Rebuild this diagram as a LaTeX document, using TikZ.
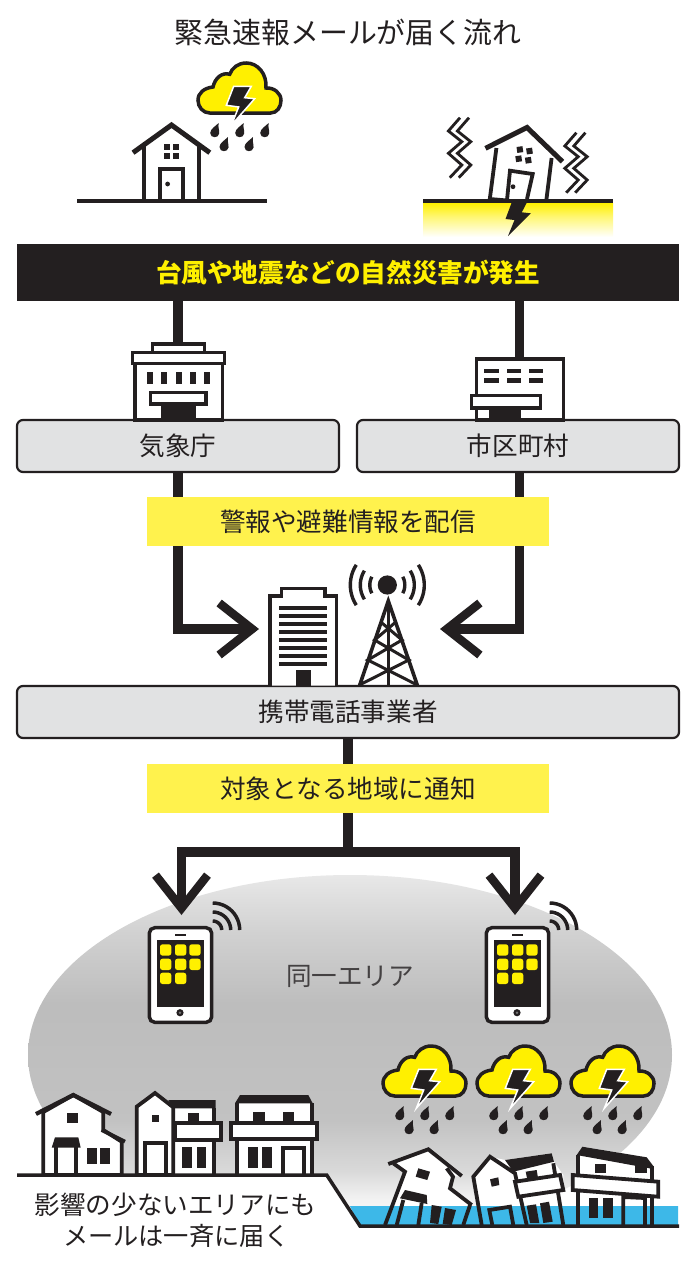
\documentclass[tikz,border=0pt]{standalone}
\usepackage{fontspec}
\setmainfont{Noto Sans CJK JP}
\usetikzlibrary{arrows.meta,calc}
\definecolor{ink}{HTML}{231F20}
\definecolor{volt}{HTML}{FFF000}
\definecolor{band}{HTML}{FFF24D}
\definecolor{panel}{HTML}{E1E2E3}
\definecolor{flood}{HTML}{3DB8E8}
\pgfdeclareverticalshading{blobshade}{100bp}{
 color(0bp)=(white); color(25bp)=(white);
 color(30bp)=(black!5);
 color(34bp)=(black!15);
 color(41bp)=(black!24);
 color(57bp)=(black!26);
 color(67bp)=(black!18);
 color(75bp)=(black!9);
 color(100bp)=(black!9)}
\pgfdeclareverticalshading{soilshade}{100bp}{
 color(0bp)=(white); color(25bp)=(white);
 color(55bp)=(volt!55); color(75bp)=(volt); color(100bp)=(volt)}
\newcommand{\arcby}[6][]{\draw[#1] plot[smooth,domain=#5:#6,samples=13] ({#2+#4*cos(\x)},{#3+#4*sin(\x)});}
\tikzset{
 every node/.style={text=ink,inner sep=0pt},
 boxnode/.style={draw=ink,line width=2.2pt,fill=panel,rounded corners=6pt,minimum width=322pt,minimum height=52pt,font=\fontsize{25.6}{30}\selectfont},
 bandnode/.style={fill=band,minimum width=402pt,minimum height=49pt,font=\fontsize{25.6}{30}\selectfont},
 conn/.style={draw=ink,line width=9.5pt},
 connarrow/.style={conn,line join=miter,-{Straight Barb[length=33pt,width=52pt,line width=8.5pt]}},
 hline/.style={draw=ink,line width=3.8pt,line join=miter},
 wall/.style={draw=ink,fill=white,line width=3.8pt,line join=miter},
 bwall/.style={draw=ink,fill=white,line width=3.2pt,line join=miter},
 fl/.style={},
 pics/storm/.style={code={
  \draw[draw=ink,fill=volt,line width=3.5pt] (11.7,50) -- (72.7,50) .. controls (79,50) and (83,44) .. (83,37.3) .. controls (83,30) and (76,24.5) .. (68,25) .. controls (69,11) and (60,0) .. (48.3,0) .. controls (40,0) and (34,5) .. (31.7,11.3) .. controls (24,9) and (17,15) .. (15,24) .. controls (6,25) and (0,30) .. (0,37.3) .. controls (0,44) and (5,50) .. (11.7,50) -- cycle;
  \draw[draw=white,fill=ink,line width=1.5pt] (35.7,23.3) -- (53.3,23.3) -- (46.7,34.7) -- (56.7,35.7) -- (33.3,62.3) -- (40.7,44) -- (28.3,42.3) -- cycle;
  \foreach \dx/\dy in {16.7/60,41.7/60,66.7/60,26/74,51/74}{
   \fill[ink] (\dx+4,\dy) .. controls (\dx+3,\dy+4) and (\dx+5,\dy+8) .. (\dx+4.5,\dy+10.5) .. controls (\dx+4,\dy+15.5) and (\dx-4.5,\dy+15.5) .. (\dx-4.5,\dy+10) .. controls (\dx-4.5,\dy+6) and (\dx+1,\dy+3) .. (\dx+4,\dy) -- cycle;}
 }},
 pics/wifi/.style={code={
  \arcby[draw=ink,line width=3.5pt]{0}{0}{9}{-90}{0}
  \arcby[draw=ink,line width=3.5pt]{0}{0}{18}{-90}{0}
  \arcby[draw=ink,line width=3.5pt]{0}{0}{27}{-90}{0}
 }},
 pics/phone/.style={code={
  \draw[draw=ink,fill=white,line width=3.5pt,rounded corners=5.5pt] (0,0) rectangle (62.4,94.6);
  \fill[ink] (25.7,6.3) rectangle (36.7,8.3);
  \fill[ink] (7.4,12.3) rectangle (54.7,79);
  \foreach \px/\py in {10.7/16.6,25.7/16.6,40/16.6,10.7/31,25.7/31,40/31,10.7/45,25.7/45}{
   \fill[volt,rounded corners=2.5pt] (\px,\py) rectangle ++(11.3,11.3);}
  \fill[ink] (30.7,85) circle (3.6);
  \fill[black!55] (30.7,85) circle (1.3);
 }},
}
\newcommand{\houseD}{
 \path[fl] (388.3,1164) -- (428.3,1149.3) -- (461.7,1176) -- (453,1176.7) -- (450,1188.3) -- (471.7,1205) -- (470,1205) -- (463.3,1225) -- (385,1225) -- (405,1171.7) -- (393.3,1163.3) -- cycle;
}
\newcommand{\houseE}{
 \path[fl] (473.3,1176.7) -- (490,1156.7) -- (505,1160) -- (551.7,1153.3) -- (554,1161.7) -- (563.3,1175) -- (563.3,1225) -- (481.7,1225) -- cycle;
}
\newcommand{\houseF}{
 \path[fl] (576.7,1155) -- (582.3,1146.7) -- (646.7,1157.3) -- (653.3,1166) -- (651.7,1225) -- (577.7,1225) -- cycle;
}
\begin{document}
\begin{tikzpicture}[x=1pt,y=-1pt]
\useasboundingbox (0,0) rectangle (696,1263);
\fill[white] (0,0) rectangle (696,1263);
% title
\node (title) at (348,32) {\fontsize{28.9}{32}\selectfont 緊急速報メールが届く流れ};
% soil
\shade[shading=soilshade] (423,203) rectangle (613,237);
% left scene
\draw[draw=ink,line width=4pt] (77,201) -- (267,201);
\draw[draw=ink,line width=4pt] (423,201) -- (613,201);
\draw[hline] (143.6,145) -- (143.6,201) (199,145) -- (199,201);
\draw[draw=ink,line width=5pt,line join=miter] (133,152.7) -- (171.5,125) -- (209.8,152.7);
\draw[hline] (160,201) -- (160,169) -- (183,169) -- (183,201);
\fill[ink] (167.6,184) circle (2.4);
\foreach \wx/\wy in {163.6/143.8,173/143.8,163.6/153,173/153}{\fill[ink] (\wx,\wy) rectangle ++(6.2,6.2);}
\pic at (198,63) {storm};
% right tilted house
\draw[hline] (496.4,148) -- (489.8,199) -- (507,200.5);
\draw[hline] (551.6,158) -- (546.5,199);
\draw[draw=ink,line width=5pt,line join=miter] (485.5,148.3) -- (527,127.5) -- (562.5,161.7);
\draw[hline] (507,200) -- (510,170.7) -- (532.7,174) -- (527,199);
\fill[ink] (513,186.7) circle (2.4);
\foreach \wx/\wy in {0/0,9.6/1.5,-1.2/9.2,8.4/10.7}{\fill[ink,shift={(516.5+\wx,147+\wy)},rotate=8] (0,0) rectangle (6,6);}
\fill[ink] (512,201.7) -- (527.3,201.7) -- (521.8,212.3) -- (530.9,213.3) -- (508,236) -- (514.5,220) -- (505.5,219) -- cycle;
% zigzags
\foreach \ox/\oy in {0/0,9/0,116.4/15,125.4/15}{
 \draw[draw=ink,line width=2.8pt,shift={(\ox,\oy)}] (460,117.7) -- (448.4,131) -- (461.8,141.7) -- (448.4,153.3) -- (461.8,165) -- (449.8,177.7);}
% headline bar
\node[fill=ink,minimum width=662pt,minimum height=57pt,text=volt,font=\fontsize{25.6}{30}\selectfont\bfseries] (headline) at (348,272.5) {台風や地震などの自然災害が発生};
% boxes
\node[boxnode] (kisho) at (178,446) {気象庁};
\node[boxnode] (city) at (518,446) {市区町村};
\node[boxnode,minimum width=662pt] (carrier) at (348,712) {携帯電話事業者};
% connectors
\draw[conn] (headline.south -| kisho) -- (kisho.north);
\draw[conn] ($(headline.south -| city)+(1.5,0)$) -- ($(city.north)+(1.5,0)$);
\coordinate (tipA) at (259,629);
\coordinate (tipB) at (440,629);
\coordinate (fork) at (348,852);
\coordinate (tipC) at (181.5,915);
\coordinate (tipD) at (515,915);
\draw[connarrow] (kisho.south) |- (tipA);
\draw[connarrow] ($(city.south)+(1.5,0)$) |- (tipB);
% blob
\shade[shading=blobshade] (350,1055) ellipse [x radius=322, y radius=180];
\draw[conn] (carrier.south) -- (fork);
\draw[connarrow] (fork) -| (tipC);
\draw[connarrow] (fork) -| (tipD);
% bands
\node[bandnode] (notice) at (348,521.5) {警報や避難情報を配信};
\node[bandnode] (target) at (348,788.5) {対象となる地域に通知};
% agency building
\draw[bwall] (152.3,344) rectangle (204.3,352.7);
\draw[bwall] (135,363.3) rectangle (222.3,420);
\draw[bwall] (132.3,352.7) rectangle (224.3,363.3);
\foreach \wx in {146.7,161,175.7,190,204.3}{\fill[ink] (\wx,372.3) rectangle ++(5.8,12);}
\fill[ink] (160.7,404) rectangle (196,420);
\draw[bwall] (150.7,392.7) rectangle (206,404);
% municipal building
\draw[bwall] (476.7,359) rectangle (563.3,420);
\foreach \wx in {484.3,506.7,528.7}{\foreach \wy in {368.7,378.3}{\fill[ink] (\wx,\wy) rectangle ++(14.6,4.2);}}
\fill[ink] (489,408) rectangle (521,420);
\draw[bwall] (471.7,395.3) rectangle (540.7,408);
% office
\draw[bwall] (270,685.7) -- (270,596) -- (281.7,596) -- (281.7,588.3) -- (325,588.3) -- (325,596) -- (336.7,596) -- (336.7,685.7);
\foreach \ly in {606,614,622,630,638,646,654,662}{\fill[ink] (279.3,\ly) rectangle ++(48,3.8);}
\fill[ink] (296,670) rectangle (311,685.7);
% tower
\fill[ink] (387.3,585) circle (9.6);
\foreach \rr/\ra in {17.5/28,27/32,37/33}{
 \arcby[draw=ink,line width=3.4pt]{387.3}{585}{\rr}{-\ra}{\ra}
 \arcby[draw=ink,line width=3.4pt]{387.3}{585}{\rr}{180-\ra}{180+\ra}}
\draw[draw=ink,line width=3.6pt,line join=miter] (359.5,685.7) -- (388.3,601) -- (417.5,685.7);
\draw[draw=ink,line width=3pt] (388.3,601) -- (388.3,685.7);
\draw[draw=ink,line width=3pt] (380.8,622) -- (402,640) -- (367.8,660) -- (417.3,685) (395.8,622) -- (374.6,640) -- (408.8,660) -- (359.3,685);
% phones
\pic at (149.3,927.7) {phone};
\pic at (486.3,927.7) {phone};
\pic at (212.7,930) {wifi};
\pic at (549.7,930) {wifi};
\node (area) at (350,976) {\fontsize{25.6}{30}\selectfont\color{ink!85}同一エリア};
% clouds
\pic at (383,1046) {storm};
\pic at (477,1046) {storm};
\pic at (571,1046) {storm};
% safe zone mask and labels
\fill[white] (0,1175) -- (326.7,1175) -- (360,1226) -- (696,1226) -- (696,1263) -- (0,1263) -- cycle;
% house A
\draw[wall] (43.3,1175) -- (43.3,1112) -- (73.3,1095) -- (103.3,1112) -- (103.3,1130) -- (121.7,1141.7) -- (121.7,1175) -- cycle;
\draw[draw=ink,line width=4.2pt,line join=miter] (36,1114) -- (73.3,1095) -- (111,1114);
\draw[hline] (101.7,1130) -- (125,1141.7);
\fill[ink] (66.7,1113.3) rectangle (78.3,1123.3);
\fill[ink] (51.7,1147.7) -- (55,1137.3) -- (78.3,1137.3) -- (80.7,1147.7) -- cycle;
\draw[hline] (56,1147) -- (56,1175) (76,1147) -- (76,1175);
\fill[ink] (86.7,1147.7) rectangle (96.7,1164);
\fill[ink] (100,1147.7) rectangle (110,1164);
% house B
\fill[white] (136.7,1175) -- (136.7,1106.7) -- (155,1093) -- (173.3,1107.3) -- (214,1107.3) -- (214,1175) -- cycle;
\fill[ink] (168.3,1100) -- (215.7,1100) -- (215.7,1108.3) -- (173.3,1108.3) -- cycle;
\draw[wall] (136.7,1175) -- (136.7,1106.7) -- (155,1093) -- (173.3,1107.3) -- (173.3,1175) -- cycle;
\draw[hline] (214,1108) -- (214,1175);
\fill[ink] (151.7,1115) rectangle (159,1121.7);
\fill[ink] (188.3,1113.3) rectangle (199,1123.3);
\draw[wall] (175,1123.3) rectangle (220.7,1140);
\draw[hline] (145,1175) -- (145,1143.3) -- (166,1143.3) -- (166,1175);
\fill[ink] (182.3,1146.7) rectangle (191.7,1167.7);
\fill[ink] (196.7,1146.7) rectangle (206,1167.7);
% house C
\fill[white] (236.7,1103) rectangle (311.7,1175);
\fill[ink] (235,1103.3) -- (240,1095) -- (308.3,1095) -- (312.7,1103.3) -- cycle;
\draw[hline] (236.7,1103) -- (236.7,1175) (311.7,1103) -- (311.7,1175);
\fill[ink] (253.3,1112.3) rectangle (265,1123.3);
\fill[ink] (282.7,1112.3) rectangle (294.3,1123.3);
\draw[wall] (231,1123.3) rectangle (316.7,1139.3);
\fill[ink] (248.3,1146.7) rectangle (258.3,1167.7);
\fill[ink] (261.7,1146.7) rectangle (271.7,1167.7);
\draw[hline] (283.3,1175) -- (283.3,1148.3) -- (304,1148.3) -- (304,1175);
% flooded houses: white bodies, water, then lines
\tikzset{fl/.style={fill=white}}
\houseD \houseE \houseF
\fill[flood] (350,1206) -- (678,1206) -- (678,1226) -- (360,1226) -- cycle;
% house D lines
\draw[hline] (388.3,1164) -- (428.3,1149.3) -- (461.7,1176);
\draw[hline] (393.3,1163.3) -- (405,1171.7) -- (385,1225);
\draw[hline] (446.7,1168.3) -- (453,1176.7) -- (450,1188.3) -- (471.7,1205) (470,1205) -- (463.3,1225);
\fill[ink] (418.3,1168.3) -- (430,1171.7) -- (427.3,1180) -- (415.7,1176.7) -- cycle;
\fill[ink] (400,1198.3) -- (405,1190) -- (426.7,1195) -- (427.3,1204) -- cycle;
\draw[hline] (403.3,1200) -- (396.7,1225) (421.7,1203) -- (418.3,1225);
\fill[ink] (431.7,1205) -- (441.7,1206.7) -- (438.3,1224) -- (430,1223) -- cycle;
\fill[ink] (445,1208) -- (456,1210) -- (451.7,1225) -- (442.7,1224) -- cycle;
% house E lines
\fill[ink] (505,1160) -- (551.7,1153.3) -- (554,1161.7) -- (513.3,1171.7) -- cycle;
\draw[hline] (481.7,1225) -- (473.3,1176.7) -- (490,1156.7) -- (515,1173.3) -- (526.7,1225);
\draw[hline] (553.3,1163.3) -- (563.3,1225);
\fill[ink] (525.7,1171.7) -- (536.7,1170) -- (538.3,1180) -- (527.7,1181.7) -- cycle;
\draw[wall] (515,1181.7) -- (560,1175) -- (563.3,1190) -- (518.3,1196.7) -- cycle;
\fill[ink] (490,1179.3) -- (498.3,1177.3) -- (499.3,1185) -- (491.7,1186.7) -- cycle;
\draw[hline] (492.3,1225) -- (489.3,1210) -- (510,1206.7) -- (513.3,1225);
\fill[ink] (526.7,1205.7) -- (536,1204.3) -- (539.3,1223) -- (530,1223) -- cycle;
\fill[ink] (540,1203.3) -- (549,1201.7) -- (552.7,1221.7) -- (543.3,1223) -- cycle;
% house F lines
\fill[ink] (576.7,1155) -- (582.3,1146.7) -- (646.7,1157.3) -- (653.3,1166) -- (653.3,1169) -- cycle;
\draw[hline] (577.7,1155) -- (577.7,1225) (651.7,1166) -- (651.7,1225);
\fill[ink] (595,1164) rectangle (606,1172.7);
\fill[ink] (635,1165) rectangle (646.7,1173.3);
\draw[wall] (572.7,1175) -- (658.3,1181.7) -- (658.3,1196.7) -- (572.7,1190) -- cycle;
\fill[ink] (589.3,1197.7) rectangle (598.3,1218.3);
\fill[ink] (603.3,1197.7) rectangle (613.3,1218.3);
\draw[hline] (623.3,1225) -- (623.3,1197) -- (645,1198) -- (645,1225);
% ground
\draw[draw=ink,line width=3.5pt,line join=miter] (17,1175) -- (326.7,1175) -- (360,1226) -- (679,1226);
\node (caption1) at (175.5,1205) {\fontsize{25.6}{30}\selectfont 影響の少ないエリアにも};
\node (caption2) at (176.5,1236) {\fontsize{25.2}{30}\selectfont メールは一斉に届く};
\end{tikzpicture}
\end{document}
